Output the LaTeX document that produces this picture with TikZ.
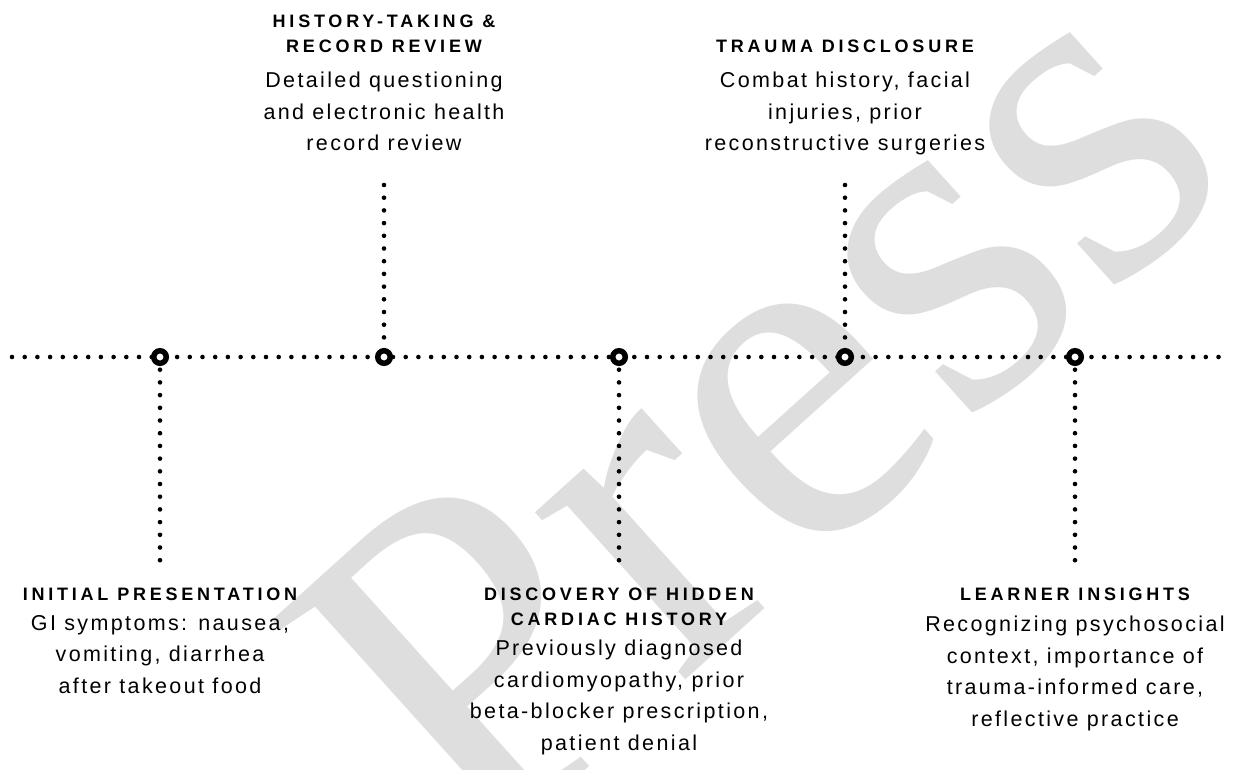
\documentclass[tikz,border=0pt]{standalone}
\usepackage{fontspec}
\usepackage{tikz}
\usetikzlibrary{positioning, backgrounds}
\newfontfamily\headfont[LetterSpace=21]{Liberation Sans}
\newfontfamily\bodyfont[LetterSpace=11]{Liberation Sans}
\newfontfamily\wmfont{Liberation Serif}
\tikzset{
    dotline/.style = {line width=4.6pt, line cap=round, dash pattern=on 0pt off 12.7pt},
    stage/.style = {circle, draw, line width=5.5pt, fill=white, minimum size=12.5pt, inner sep=0pt},
    head/.style = {font=\headfont\bfseries\fontsize{18}{25}\selectfont, align=center, inner sep=0pt},
    body/.style = {font=\bodyfont\fontsize{21.5}{31.5}\selectfont, align=center, inner sep=0pt},
}

\begin{document}
\begin{tikzpicture}[x=1pt, y=-1pt]
    \useasboundingbox (0, 0) rectangle (1242, 769);

    % stages on the time line
    \node[stage] (initial) at (160, 357) {};
    \node[stage] (history) at (384, 357) {};
    \node[stage] (cardiac) at (619, 357) {};
    \node[stage] (trauma) at (845, 357) {};
    \node[stage] (insight) at (1075, 357) {};

    % captions below the line
    \node[head, anchor=north] (initialHead) at (160, 588) {INITIAL PRESENTATION};
    \node[body, below=14pt of initialHead] (initialBody) {GI symptoms: nausea,\\ vomiting, diarrhea\\ after takeout food};
    \node[head, anchor=north] (cardiacHead) at (619, 588) {DISCOVERY OF HIDDEN\\ CARDIAC HISTORY};
    \node[body, below=14pt of cardiacHead] (cardiacBody) {Previously diagnosed\\ cardiomyopathy, prior\\ beta-blocker prescription,\\ patient denial};
    \node[head, anchor=north] (insightHead) at (1075, 588) {LEARNER INSIGHTS};
    \node[body, below=15pt of insightHead] (insightBody) {Recognizing psychosocial\\ context, importance of\\ trauma-informed care,\\ reflective practice};

    % captions above the line
    \node[body, anchor=north] (historyBody) at (384, 72) {Detailed questioning\\ and electronic health\\ record review};
    \node[head, above=19pt of historyBody] (historyHead) {HISTORY-TAKING \&\\ RECORD REVIEW};
    \node[body, anchor=north] (traumaBody) at (845, 72) {Combat history, facial\\ injuries, prior\\ reconstructive surgeries};
    \node[head, above=19pt of traumaBody] (traumaHead) {TRAUMA DISCLOSURE};

    \coordinate (lineStart) at (12, 357);
    \coordinate (lineEnd) at (1220, 357);
    \coordinate (initialEnd) at (160, 564);
    \coordinate (cardiacEnd) at (619, 564);
    \coordinate (insightEnd) at (1075, 564);
    \coordinate (historyEnd) at (384, 185);
    \coordinate (traumaEnd) at (845, 185);

    \begin{pgfonlayer}{background}
        \clip (0, 0) rectangle (1242, 769);
        \node[text=black!13, font=\wmfont\fontsize{490}{490}\selectfont, rotate=42] (watermark) at (755, 405) {Press};
        \draw[dotline]
            (lineStart) -- (lineEnd)
            (initial.center) -- (initialEnd)
            (cardiac.center) -- (cardiacEnd)
            (insight.center) -- (insightEnd)
            (historyEnd) -- (history.center)
            (traumaEnd) -- (trauma.center);
    \end{pgfonlayer}
\end{tikzpicture}
\end{document}
